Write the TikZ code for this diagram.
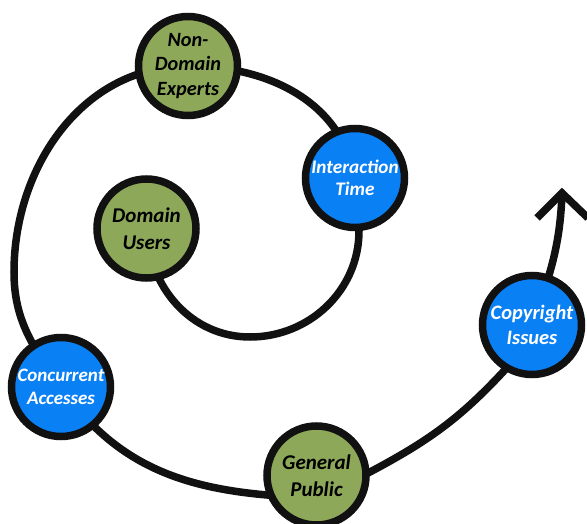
\documentclass[tikz,border=0pt]{standalone}
\usepackage{fontspec}
\setmainfont{Carlito}
\usetikzlibrary{backgrounds}
\definecolor{nodegreen}{HTML}{8EA85A}
\definecolor{nodeblue}{HTML}{0A80F5}
\definecolor{ink}{HTML}{111111}
\tikzset{
  stage/.style={circle, draw=ink, line width=7.5pt, minimum size=99pt, inner sep=0pt, align=center, font=\fontsize{21}{26.5}\selectfont\bfseries\itshape},
  greenstage/.style={stage, fill=nodegreen, text=black},
  bluestage/.style={stage, fill=nodeblue, text=white},
  spiral/.style={draw=ink, line width=7.5pt},
  arrowhead/.style={draw=ink, line width=7.5pt, line join=miter, line cap=butt},
}
\begin{document}
\begin{tikzpicture}[x=1pt,y=1pt]
\useasboundingbox (0,0) rectangle (587,523);
\node[greenstage, font=\fontsize{20.3}{24.2}\selectfont\bfseries\itshape] (nde) at (188,457) {Non-\\Domain\\Experts};
\node[greenstage] (du) at (146.5,294.5) {Domain\\Users};
\node[bluestage, font=\fontsize{19.2}{22.5}\selectfont\bfseries\itshape] (it) at (355,345) {Interaction\\Time};
\node[bluestage, font=\fontsize{20.5}{25}\selectfont\bfseries\itshape] (cp) at (532,198) {Copyright\\Issues};
\node[bluestage, font=\fontsize{19}{23.5}\selectfont\bfseries\itshape] (ca) at (61,136) {Concurrent\\Accesses};
\node[greenstage] (gp) at (316.5,47.5) {General\\Public};
\coordinate (b1) at (250,186);
\coordinate (r1) at (359,292);
\coordinate (lft) at (14,251);
\coordinate (g1) at (267,28);
\coordinate (g2) at (370,51);
\coordinate (c1) at (503,151);
\coordinate (tip) at (562,330);
\coordinate (wl) at (537,305);
\coordinate (wr) at (588,305);
\begin{scope}[on background layer]
\draw[spiral] (du.center) to[out=-88,in=180] (b1) to[out=0,in=-90] (r1) to[out=90,in=-80] (it.center) to[out=100,in=0] (nde.center) to[out=180,in=90] (lft) to[out=-90,in=125] (ca.center) to[out=-55,in=175] (g1) to[out=-5,in=208] (g2) to[out=28,in=227] (c1) to[out=47,in=245] (cp.center) to[out=70,in=-92] (tip);
\end{scope}
\draw[arrowhead] (wl) -- (tip) -- (wr);
\end{tikzpicture}
\end{document}
